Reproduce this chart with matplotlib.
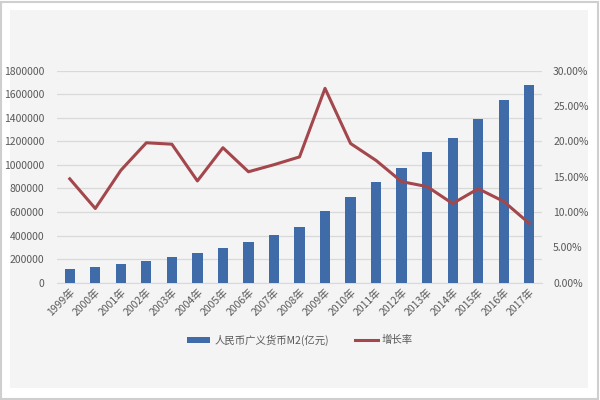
import matplotlib

matplotlib.use("Agg")

import matplotlib.pyplot as plt
from matplotlib.patches import Rectangle

plt.rcParams["font.family"] = ["Noto Sans CJK SC", "DejaVu Sans"]

# M2 money supply (100 million yuan) and its yearly growth rate (%)
years = [f"{y}年" for y in range(1999, 2018)]
m2_values = [119898, 134610, 158302, 185007, 221223, 254107, 298756, 345578,
             403442, 475166, 606225, 725852, 851591, 974149, 1106525, 1228375,
             1392278, 1550067, 1676800]
growth_pct = [14.7, 10.5, 15.9, 19.8, 19.6, 14.4, 19.1, 15.7, 16.7, 17.8,
              27.5, 19.7, 17.3, 14.3, 13.6, 11.2, 13.3, 11.5, 8.4]
left_ticks = list(range(0, 1800001, 200000))
right_ticks = [0, 5, 10, 15, 20, 25, 30]

BAR_COLOR = "#3f6ba9"
LINE_COLOR = "#a4474c"
TEXT_COLOR = "#595959"
GRID_COLOR = "#d9d9d9"

fig = plt.figure(figsize=(6, 4), dpi=100, facecolor="white")

# outer grey border + light inner panel, like the screenshot frame
fig.patches.append(Rectangle((0.002, 0.003), 0.995, 0.993, transform=fig.transFigure,
                             facecolor="white", edgecolor="#cfcfcf", linewidth=1.5,
                             zorder=-20))
fig.patches.append(Rectangle((10 / 600, 12 / 400), 578 / 600, 378 / 400,
                             transform=fig.transFigure, facecolor="#f4f4f4",
                             edgecolor="none", zorder=-10))

ax = fig.add_axes([57 / 600, 1 - 282.7 / 400, 485 / 600, 212 / 400])
ax.set_facecolor("none")
x = list(range(len(years)))
bars = ax.bar(x, m2_values, width=0.4, color=BAR_COLOR, zorder=3,
              label="人民币广义货币M2(亿元)")
ax.set_xlim(-0.5, len(years) - 0.5)
ax.set_ylim(0, 1800000)
ax.set_yticks(left_ticks)
ax.set_yticklabels([str(v) for v in left_ticks])
ax.grid(axis="y", color=GRID_COLOR, linewidth=0.9, zorder=0)
ax.set_xticks(x)
ax.set_xticklabels(years, rotation=45, ha="right", rotation_mode="anchor")
ax.tick_params(axis="y", length=0, pad=9, labelsize=7.5, labelcolor=TEXT_COLOR)
ax.tick_params(axis="x", length=0, pad=3, labelsize=7.5, labelcolor=TEXT_COLOR)
for side in ("top", "left", "right"):
    ax.spines[side].set_visible(False)
ax.spines["bottom"].set_color(GRID_COLOR)

ax2 = ax.twinx()
(line,) = ax2.plot(x, growth_pct, color=LINE_COLOR, linewidth=2.2, zorder=4,
                   label="增长率")
ax2.set_ylim(0, 30)
ax2.set_yticks(right_ticks)
ax2.set_yticklabels([f"{v:.2f}%" for v in right_ticks])
ax2.tick_params(axis="y", length=0, pad=8, labelsize=7.5, labelcolor=TEXT_COLOR)
for side in ("top", "left", "right", "bottom"):
    ax2.spines[side].set_visible(False)

fig.legend([bars, line], ["人民币广义货币M2(亿元)", "增长率"], loc="center",
           bbox_to_anchor=(0.5, 1 - 340 / 400), ncol=2, frameon=False,
           fontsize=7.5, labelcolor=TEXT_COLOR, handlelength=2.2,
           handleheight=0.5, columnspacing=2.5, handletextpad=0.4)

fig.savefig("out.png", dpi=100, facecolor="white")
